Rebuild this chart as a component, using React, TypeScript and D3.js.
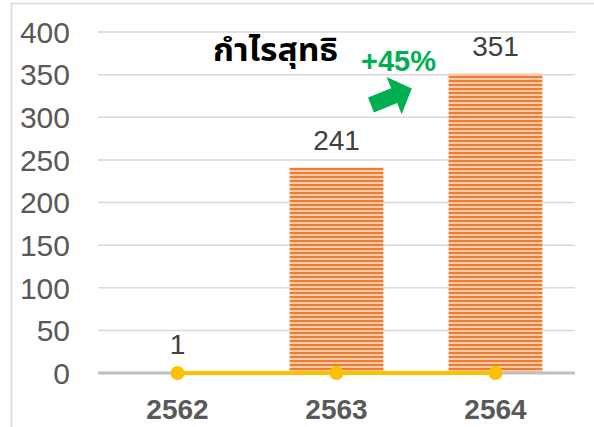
import { useEffect, useRef } from "react";
import * as d3 from "d3";

const years = ["2562", "2563", "2564"];
const profit = [1, 241, 351];
const lineValues = [0, 0, 0];
const yTicks = [0, 50, 100, 150, 200, 250, 300, 350, 400];
const title = "กำไรสุทธิ";
const growthLabel = "+45%";

const App = () => {
  const svgRef = useRef<SVGSVGElement>(null);
  const width = 594;
  const height = 427;
  const margin = { top: 32, left: 98, bottom: 54, right: 19 };

  useEffect(() => {
    const svg = d3.select(svgRef.current);
    svg.selectAll("*").remove();

    const x = d3
      .scaleBand()
      .domain(years)
      .range([margin.left, width - margin.right])
      .paddingInner(0.41)
      .paddingOuter(0.205);
    const y = d3
      .scaleLinear()
      .domain([0, 400])
      .range([height - margin.bottom, margin.top]);
    const cx = (i: number) => x(years[i])! + x.bandwidth() / 2;

    const defs = svg.append("defs");
    const pat = defs
      .append("pattern")
      .attr("id", "stripes")
      .attr("patternUnits", "userSpaceOnUse")
      .attr("width", 8)
      .attr("height", 4);
    pat.append("rect").attr("width", 8).attr("height", 4).attr("fill", "#F8CBAD");
    pat.append("rect").attr("width", 8).attr("height", 2).attr("fill", "#ED7D31");

    // frame
    svg
      .append("path")
      .attr("d", `M11.5,${height} V3.5 H${width}`)
      .attr("fill", "none")
      .attr("stroke", "#D9D9D9")
      .attr("stroke-width", 1.5);

    // grid
    svg
      .append("g")
      .selectAll("line")
      .data(yTicks.filter((t) => t > 0))
      .enter()
      .append("line")
      .attr("x1", margin.left)
      .attr("x2", width - margin.right)
      .attr("y1", (d) => y(d))
      .attr("y2", (d) => y(d))
      .attr("stroke", "#D9D9D9")
      .attr("stroke-width", 1.5);

    // y labels
    svg
      .append("g")
      .selectAll("text")
      .data(yTicks)
      .enter()
      .append("text")
      .attr("x", 70)
      .attr("y", (d) => y(d))
      .attr("dy", "0.36em")
      .attr("text-anchor", "end")
      .attr("font-family", "Liberation Sans, Arial, sans-serif")
      .attr("font-size", 30)
      .attr("fill", "#595959")
      .text((d) => d);

    // bars
    svg
      .append("g")
      .selectAll("rect")
      .data(profit)
      .enter()
      .append("rect")
      .attr("x", (_, i) => x(years[i])!)
      .attr("width", x.bandwidth())
      .attr("y", (d) => y(d))
      .attr("height", (d) => y(0) - y(d))
      .attr("fill", "url(#stripes)");

    // baseline
    svg
      .append("line")
      .attr("x1", margin.left)
      .attr("x2", width - margin.right)
      .attr("y1", y(0))
      .attr("y2", y(0))
      .attr("stroke", "#BFBFBF")
      .attr("stroke-width", 3);

    // value labels
    svg
      .append("g")
      .selectAll("text")
      .data(profit)
      .enter()
      .append("text")
      .attr("x", (_, i) => cx(i))
      .attr("y", (d) => y(d) - 18)
      .attr("text-anchor", "middle")
      .attr("font-family", "Liberation Sans, Arial, sans-serif")
      .attr("font-size", 28)
      .attr("fill", "#404040")
      .text((d) => d);

    // yellow line
    const line = d3
      .line<number>()
      .x((_, i) => cx(i))
      .y((d) => y(d));
    svg
      .append("path")
      .datum(lineValues)
      .attr("d", line)
      .attr("fill", "none")
      .attr("stroke", "#FFC000")
      .attr("stroke-width", 4);
    svg
      .append("g")
      .selectAll("circle")
      .data(lineValues)
      .enter()
      .append("circle")
      .attr("cx", (_, i) => cx(i))
      .attr("cy", (d) => y(d))
      .attr("r", 7)
      .attr("fill", "#FFC000");

    // x labels
    svg
      .append("g")
      .selectAll("text")
      .data(years)
      .enter()
      .append("text")
      .attr("x", (d) => x(d)! + x.bandwidth() / 2)
      .attr("y", 419)
      .attr("text-anchor", "middle")
      .attr("font-family", "Liberation Sans, Arial, sans-serif")
      .attr("font-weight", "bold")
      .attr("font-size", 28)
      .attr("fill", "#595959")
      .text((d) => d);

    // title
    svg
      .append("text")
      .attr("transform", `translate(213,61) scale(1.05,1)`)
      .attr("font-family", "Noto Sans Thai, Noto Sans, sans-serif")
      .attr("font-weight", "bold")
      .attr("font-size", 32)
      .attr("fill", "#000")
      .text(title);

    // growth
    svg
      .append("text")
      .attr("x", 361)
      .attr("y", 71)
      .attr("font-family", "Liberation Sans, Arial, sans-serif")
      .attr("font-weight", "bold")
      .attr("font-size", 29)
      .attr("fill", "#00B050")
      .text(growthLabel);

    // arrow
    svg
      .append("path")
      .attr("d", "M0,-8 H25 V-20 L44,0 L25,20 V8 H0 Z")
      .attr("transform", "translate(371,105) rotate(-22)")
      .attr("fill", "#00B050");
  }, []);

  return (
    <svg
      ref={svgRef}
      width={width}
      height={height}
      style={{ position: "absolute", left: 0, top: 0, background: "#fff" }}
    />
  );
};

export default App;
